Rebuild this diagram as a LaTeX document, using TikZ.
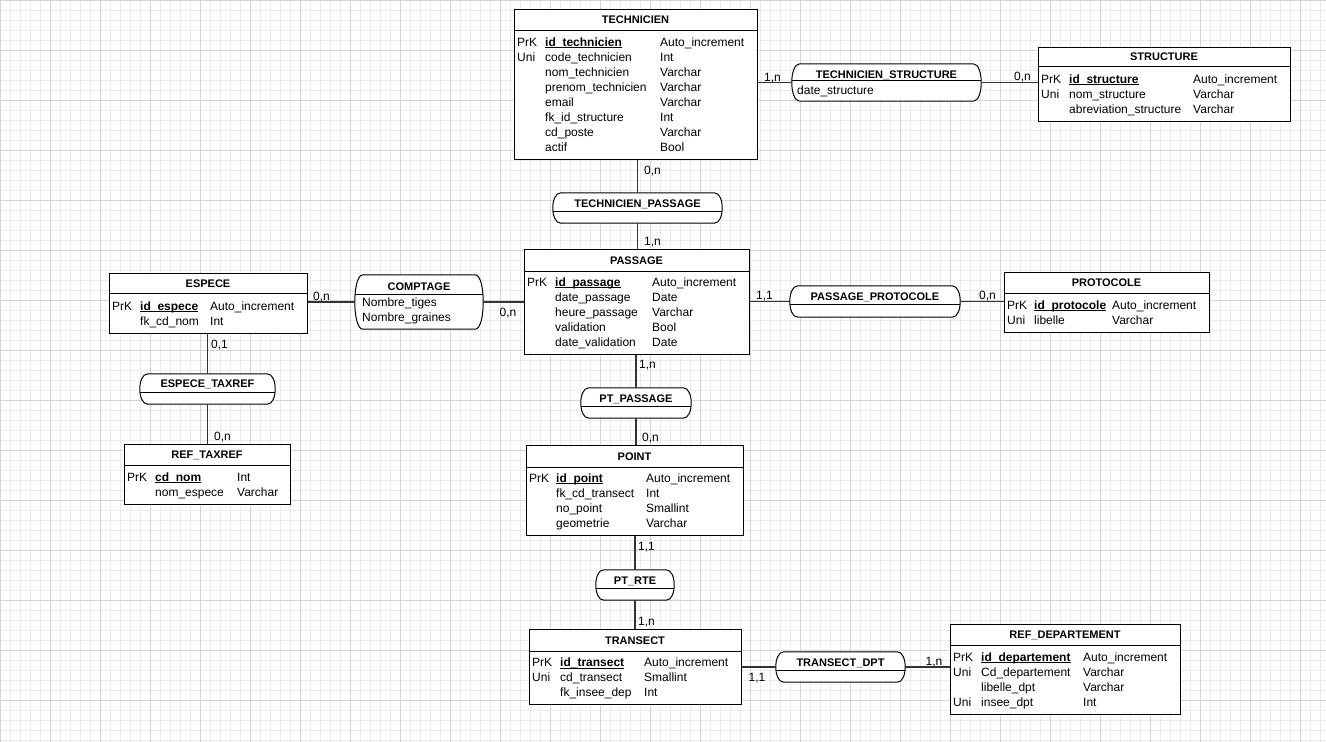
\documentclass[tikz,border=0pt]{standalone}
\usepackage{fontspec}
\setmainfont{Liberation Sans}
\usepackage{tikz}
\usetikzlibrary{positioning}

\newcommand{\cle}[1]{\setbox0\hbox{\bfseries #1}\rlap{\rule[-2.2pt]{\wd0}{1.1pt}}\box0}
\newcommand{\contour}[1]{%
  \draw[sep, fill=white] ([xshift=8pt]#1.north west) -- ([xshift=-8pt]#1.north east)
    .. controls ([xshift=2.7pt]#1.north east) and ([xshift=2.7pt]#1.south east) .. ([xshift=-8pt]#1.south east)
    -- ([xshift=8pt]#1.south west)
    .. controls ([xshift=-2.7pt]#1.south west) and ([xshift=-2.7pt]#1.north west) .. ([xshift=8pt]#1.north west)
    -- cycle;}

\tikzset{
  entite/.style={draw, rectangle, fill=white, line width=1pt, inner sep=0},
  asso/.style={rectangle, inner sep=0},
  titre/.style={font=\bfseries\fontsize{11}{13}\selectfont, anchor=base, inner sep=0},
  champ/.style={font=\fontsize{12}{14}\selectfont, anchor=base west, inner sep=0},
  card/.style={font=\fontsize{12}{14}\selectfont, anchor=base west, inner sep=0},
  lien/.style={draw=black!80, line width=1.2pt},
  sep/.style={line width=1pt},
  petit/.style={draw=black!8, line width=0.7pt},
  grand/.style={draw=black!17, line width=0.7pt},
}

\begin{document}
\begin{tikzpicture}[x=1pt, y=-1pt]
  \useasboundingbox (0,0) rectangle (1326,742);
  \fill[white] (0,0) rectangle (1326,742);
  % grille
  \foreach \gx in {0,10,...,1320} \draw[petit] (\gx,0) -- (\gx,742);
  \foreach \gy in {0,10,...,740} \draw[petit] (0,\gy) -- (1326,\gy);
  \foreach \gx in {0,50,...,1300} \draw[grand] (\gx,0) -- (\gx,742);
  \foreach \gy in {0,50,...,700} \draw[grand] (0,\gy) -- (1326,\gy);

  % entites
  \node[entite, minimum width=243, minimum height=150] (tech) at (635.5,84) {};
  \draw[sep] ([yshift=-22pt]tech.north west) -- ([yshift=-22pt]tech.north east);
  \node[titre] (tech-t) at (635.5,23.5) {TECHNICIEN};
  \foreach \k/\n/\t [count=\i] in {PrK/\cle{id\_technicien}/Auto\_increment, Uni/code\_technicien/Int,
      /nom\_technicien/Varchar, /prenom\_technicien/Varchar, /email/Varchar,
      /fk\_id\_structure/Int, /cd\_poste/Varchar, /actif/Bool} {
    \node[champ] (tech-k\i) at (517,31+15*\i) {\k};
    \node[champ] (tech-n\i) at (545,31+15*\i) {\n};
    \node[champ] (tech-y\i) at (660,31+15*\i) {\t};
  }

  \node[entite, minimum width=252, minimum height=74] (struct) at (1164,84) {};
  \draw[sep] ([yshift=-20pt]struct.north west) -- ([yshift=-20pt]struct.north east);
  \node[titre] (struct-t) at (1164,60.5) {STRUCTURE};
  \foreach \k/\n/\t [count=\i] in {PrK/\cle{id\_structure}/Auto\_increment, Uni/nom\_structure/Varchar,
      /abreviation\_structure/Varchar} {
    \node[champ] (struct-k\i) at (1041,68+15*\i) {\k};
    \node[champ] (struct-n\i) at (1069,68+15*\i) {\n};
    \node[champ] (struct-y\i) at (1193,68+15*\i) {\t};
  }

  \node[entite, minimum width=225, minimum height=105] (pass) at (636.5,301.5) {};
  \draw[sep] ([yshift=-22.5pt]pass.north west) -- ([yshift=-22.5pt]pass.north east);
  \node[titre] (pass-t) at (636.5,264) {PASSAGE};
  \foreach \k/\n/\t [count=\i] in {PrK/\cle{id\_passage}/Auto\_increment, /date\_passage/Date,
      /heure\_passage/Varchar, /validation/Bool, /date\_validation/Date} {
    \node[champ] (pass-k\i) at (527,271+15*\i) {\k};
    \node[champ] (pass-n\i) at (555,271+15*\i) {\n};
    \node[champ] (pass-y\i) at (652,271+15*\i) {\t};
  }

  \node[entite, minimum width=205, minimum height=60] (proto) at (1106.5,302) {};
  \draw[sep] ([yshift=-22pt]proto.north west) -- ([yshift=-22pt]proto.north east);
  \node[titre] (proto-t) at (1106.5,286.5) {PROTOCOLE};
  \foreach \k/\n/\t [count=\i] in {PrK/\cle{id\_protocole}/Auto\_increment, Uni/libelle/Varchar} {
    \node[champ] (proto-k\i) at (1007,294+15*\i) {\k};
    \node[champ] (proto-n\i) at (1034,294+15*\i) {\n};
    \node[champ] (proto-y\i) at (1112,294+15*\i) {\t};
  }

  \node[entite, minimum width=217, minimum height=90] (point) at (634.5,490) {};
  \draw[sep] ([yshift=-22.5pt]point.north west) -- ([yshift=-22.5pt]point.north east);
  \node[titre] (point-t) at (634.5,460) {POINT};
  \foreach \k/\n/\t [count=\i] in {PrK/\cle{id\_point}/Auto\_increment, /fk\_cd\_transect/Int,
      /no\_point/Smallint, /geometrie/Varchar} {
    \node[champ] (point-k\i) at (529,467+15*\i) {\k};
    \node[champ] (point-n\i) at (556,467+15*\i) {\n};
    \node[champ] (point-y\i) at (646,467+15*\i) {\t};
  }

  \node[entite, minimum width=212, minimum height=75] (trans) at (635,666.5) {};
  \draw[sep] ([yshift=-22.5pt]trans.north west) -- ([yshift=-22.5pt]trans.north east);
  \node[titre] (trans-t) at (635,644) {TRANSECT};
  \foreach \k/\n/\t [count=\i] in {PrK/\cle{id\_transect}/Auto\_increment, Uni/cd\_transect/Smallint,
      /fk\_insee\_dep/Int} {
    \node[champ] (trans-k\i) at (532,651.5+15*\i) {\k};
    \node[champ] (trans-n\i) at (560,651.5+15*\i) {\n};
    \node[champ] (trans-y\i) at (644,651.5+15*\i) {\t};
  }

  \node[entite, minimum width=230, minimum height=90] (dept) at (1065,669) {};
  \draw[sep] ([yshift=-22pt]dept.north west) -- ([yshift=-22pt]dept.north east);
  \node[titre] (dept-t) at (1065,638.5) {REF\_DEPARTEMENT};
  \foreach \k/\n/\t [count=\i] in {PrK/\cle{id\_departement}/Auto\_increment, Uni/Cd\_departement/Varchar,
      /libelle\_dpt/Varchar, Uni/insee\_dpt/Int} {
    \node[champ] (dept-k\i) at (953,646+15*\i) {\k};
    \node[champ] (dept-n\i) at (981,646+15*\i) {\n};
    \node[champ] (dept-y\i) at (1083,646+15*\i) {\t};
  }

  \node[entite, minimum width=198, minimum height=60] (espece) at (208,303) {};
  \draw[sep] ([yshift=-21pt]espece.north west) -- ([yshift=-21pt]espece.north east);
  \node[titre] (espece-t) at (208,287.5) {ESPECE};
  \foreach \k/\n/\t [count=\i] in {PrK/\cle{id\_espece}/Auto\_increment, /fk\_cd\_nom/Int} {
    \node[champ] (espece-k\i) at (112,295+15*\i) {\k};
    \node[champ] (espece-n\i) at (140,295+15*\i) {\n};
    \node[champ] (espece-y\i) at (210,295+15*\i) {\t};
  }

  \node[entite, minimum width=166, minimum height=60] (taxref) at (207,474) {};
  \draw[sep] ([yshift=-22pt]taxref.north west) -- ([yshift=-22pt]taxref.north east);
  \node[titre] (taxref-t) at (207,458.5) {REF\_TAXREF};
  \foreach \k/\n/\t [count=\i] in {PrK/\cle{cd\_nom}/Int, /nom\_espece/Varchar} {
    \node[champ] (taxref-k\i) at (127,466+15*\i) {\k};
    \node[champ] (taxref-n\i) at (155,466+15*\i) {\n};
    \node[champ] (taxref-y\i) at (237,466+15*\i) {\t};
  }

  % associations
  \node[asso, minimum width=189, minimum height=37] (tstr) at (886.5,82.5) {};
  \contour{tstr}
  \draw[sep] ([yshift=2.5pt]tstr.west) -- ([yshift=2.5pt]tstr.east);
  \node[titre] (tstr-t) at (886.5,78) {TECHNICIEN\_STRUCTURE};
  \node[champ] (tstr-a) at (797,94.5) {date\_structure};

  \node[asso, minimum width=169, minimum height=30] (tpas) at (637.5,208) {};
  \contour{tpas}
  \draw[sep] ([yshift=-3pt]tpas.west) -- ([yshift=-3pt]tpas.east);
  \node[titre] (tpas-t) at (637.5,207) {TECHNICIEN\_PASSAGE};

  \node[asso, minimum width=170, minimum height=31] (pprot) at (875,301.5) {};
  \contour{pprot}
  \draw[sep] ([yshift=-2.5pt]pprot.west) -- ([yshift=-2.5pt]pprot.east);
  \node[titre] (pprot-t) at (875,300) {PASSAGE\_PROTOCOLE};

  \node[asso, minimum width=110, minimum height=30] (ptpas) at (636,403) {};
  \contour{ptpas}
  \draw[sep] ([yshift=-3pt]ptpas.west) -- ([yshift=-3pt]ptpas.east);
  \node[titre] (ptpas-t) at (636,402) {PT\_PASSAGE};

  \node[asso, minimum width=78, minimum height=30] (ptrte) at (635,585) {};
  \contour{ptrte}
  \draw[sep] ([yshift=-3pt]ptrte.west) -- ([yshift=-3pt]ptrte.east);
  \node[titre] (ptrte-t) at (635,584) {PT\_RTE};

  \node[asso, minimum width=129, minimum height=30] (tdpt) at (840.5,667) {};
  \contour{tdpt}
  \draw[sep] ([yshift=-3pt]tdpt.west) -- ([yshift=-3pt]tdpt.east);
  \node[titre] (tdpt-t) at (840.5,666) {TRANSECT\_DPT};

  \node[asso, minimum width=128, minimum height=54] (compt) at (419,302) {};
  \contour{compt}
  \draw[sep] ([yshift=8pt]compt.west) -- ([yshift=8pt]compt.east);
  \node[titre] (compt-t) at (419,290) {COMPTAGE};
  \node[champ] (compt-a1) at (362,306) {Nombre\_tiges};
  \node[champ] (compt-a2) at (362,321) {Nombre\_graines};

  \node[asso, minimum width=135, minimum height=30] (etax) at (207.5,389) {};
  \contour{etax}
  \draw[sep] ([yshift=-3pt]etax.west) -- ([yshift=-3pt]etax.east);
  \node[titre] (etax-t) at (207.5,387) {ESPECE\_TAXREF};

  % liens
  \draw[lien] (tech.east |- tstr.west) -- (tstr.west);
  \draw[lien] (tstr.east) -- (tstr.east -| struct.west);
  \draw[lien] (tech.south -| tpas.north) -- (tpas.north);
  \draw[lien] (tpas.south) -- (pass.north -| tpas.south);
  \draw[lien] (pass.east |- pprot.west) -- (pprot.west);
  \draw[lien] (pprot.east) -- (pprot.east -| proto.west);
  \draw[lien] (pass.south -| ptpas.north) -- (ptpas.north);
  \draw[lien] (ptpas.south) -- (point.north -| ptpas.south);
  \draw[lien] (point.south -| ptrte.north) -- (ptrte.north);
  \draw[lien] (ptrte.south) -- (trans.north -| ptrte.south);
  \draw[lien] (trans.east |- tdpt.west) -- (tdpt.west);
  \draw[lien] (tdpt.east) -- (tdpt.east -| dept.west);
  \draw[lien] (espece.east |- compt.west) -- (compt.west);
  \draw[lien] (compt.east) -- (compt.east -| pass.west);
  \draw[lien] (espece.south -| etax.north) -- (etax.north);
  \draw[lien] (etax.south) -- (taxref.north -| etax.south);

  % cardinalites
  \node[card] (c1) at (764,81.5) {1,n};
  \node[card] (c2) at (1014,80) {0,n};
  \node[card] (c3) at (644,174.5) {0,n};
  \node[card] (c4) at (644,245) {1,n};
  \node[card] (c5) at (756,299.5) {1,1};
  \node[card] (c6) at (979,299.5) {0,n};
  \node[card] (c7) at (639,368.5) {1,n};
  \node[card] (c8) at (642,441) {0,n};
  \node[card] (c9) at (638,550.5) {1,1};
  \node[card] (c10) at (638,625.5) {1,n};
  \node[card] (c11) at (748.5,681.5) {1,1};
  \node[card] (c12) at (925.5,665.5) {1,n};
  \node[card] (c13) at (313,300.5) {0,n};
  \node[card] (c14) at (499.5,316) {0,n};
  \node[card] (c15) at (211,348.5) {0,1};
  \node[card] (c16) at (214,440) {0,n};
\end{tikzpicture}
\end{document}
